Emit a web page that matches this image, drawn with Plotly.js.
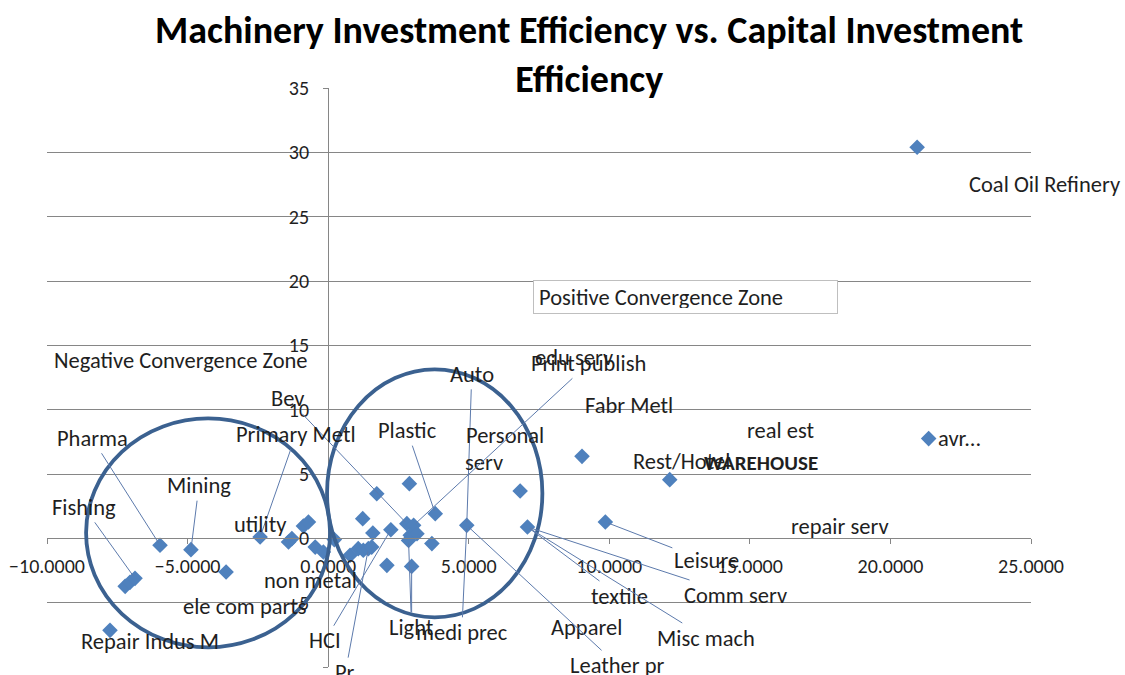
<!DOCTYPE html>
<html>
<head>
<meta charset="utf-8">
<script src="https://cdn.plot.ly/plotly-3.0.1.min.js"></script>
<style>html,body{margin:0;padding:0;background:#fff;}#chart{width:1125px;height:675px;}</style>
</head>
<body>
<div id="chart"></div>
<script>
// ---- data ----
const machineryEff = [-7.76,-7.22,-7.05,-6.87,-5.98,-4.88,-3.63,-2.42,-1.41,-1.29,-0.88,-0.70,-0.46,-0.17,0.22,0.78,1.07,1.25,1.43,1.55,1.73,2.89,1.23,1.59,2.23,2.80,3.04,2.92,3.16,2.86,3.69,3.81,2.09,2.97,4.93,6.83,7.09,9.03,12.15,9.86,20.95,21.36];
const capitalEff   = [-7.15,-3.73,-3.42,-3.11,-0.54,-0.88,-2.62,0.10,-0.29,-0.02,0.95,1.27,-0.68,-1.06,-0.10,-1.32,-0.80,-0.93,-0.80,-0.68,3.47,4.25,1.53,0.41,0.67,1.14,1.01,0.23,0.36,-0.16,-0.41,1.92,-2.10,-2.18,1.01,3.68,0.88,6.37,4.56,1.27,30.40,7.75];

const xTickVals = [-10,-5,0,5,10,15,20,25];
const yTickVals = [-10,-5,0,5,10,15,20,25,30,35];

// data labels: text, index of the point they belong to, leader line shown?, bold?, visible text?
const labelTexts  = ["Coal Oil Refinery","avr...","Fabr Metl","real est","Rest/Hotel","WAREHOUSE","repair serv","Leisure","Comm serv","textile","Misc mach","Apparel","Leather pr","medi prec","Auto","Personal","serv","Print publish","edu serv","Plastic","Bev","Primary Metl","utility","Mining","Pharma","Fishing","Repair Indus M","ele com parts","non metal","HCI","Pr","Light","Light"];
const labelPoint  = [40,41,37,38,38,38,39,39,36,36,36,34,34,34,34,35,35,26,26,31,25,7,7,5,4,3,0,6,15,24,18,33,29];
const labelLeader = [0,0,0,0,0,0,0,1,1,1,1,0,1,1,1,0,0,1,0,1,1,1,0,1,1,1,0,0,0,1,1,1,1];
const labelBold   = [0,0,0,0,0,1,0,0,0,0,0,0,0,0,0,0,0,0,0,0,0,0,0,0,0,0,0,0,0,0,0,0,0];
const labelShown  = [1,1,1,1,1,1,1,1,1,1,1,1,1,1,1,1,1,1,1,1,1,1,1,1,1,1,1,1,1,1,1,1,0];

// ---- label placement (pixel offsets from the point) ----
const labelOffsets = [[128,37],[31,0],[47,-51],[111,-49],[12,-18],[91,-17],[235,5],[101,39],[208,68],[92,69],[179,111],[120,102],[151,140],[-5,107],[5,-151],[-15,-55],[-36,-28],[175,-162],[160,-168],[-28,-83],[-119,-125],[36,-103],[0,-13],[8,-64],[-68,-107],[-51,-71],[40,11],[19,34],[-40,25],[-66,111],[-23,124],[0,61],[3,87]];

const FONT = 'Carlito, "Open Sans", sans-serif';
const LABEL_SIZE = 22.5;
const TICK_SIZE = 20;
const TEXT_COLOR = '#1f1f1f';

const trace = {
  type: 'scatter', mode: 'markers',
  x: machineryEff, y: capitalEff,
  marker: {symbol: 'diamond', size: 12, color: '#4f81bd'},
  cliponaxis: false, hoverinfo: 'skip'
};

const annotations = labelTexts.map((t, i) => {
  const p = labelPoint[i];
  return {
    x: machineryEff[p], y: capitalEff[p], xref: 'x', yref: 'y',
    text: labelBold[i] ? '<b>' + t + '</b>' : t,
    showarrow: true, arrowhead: 0, arrowwidth: 1, standoff: 3,
    arrowcolor: labelLeader[i] ? 'rgb(92,122,172)' : 'rgba(0,0,0,0)',
    ax: labelOffsets[i][0], ay: labelOffsets[i][1],
    font: {family: FONT, size: labelBold[i] ? 21 : LABEL_SIZE, color: labelShown[i] ? TEXT_COLOR : 'rgba(0,0,0,0)'}
  };
});

// zone text boxes and axis note
annotations.push({
  xref: 'x', yref: 'y', x: -9.82, y: 13.83, xanchor: 'left', yanchor: 'middle',
  text: 'Negative Convergence Zone', showarrow: false,
  font: {family: FONT, size: LABEL_SIZE, color: TEXT_COLOR}
});
annotations.push({
  xref: 'x', yref: 'y', x: 7.30, y: 18.73, xanchor: 'left', yanchor: 'middle',
  text: 'Positive Convergence Zone', showarrow: false, align: 'left',
  width: 293, height: 22, borderpad: 5, bordercolor: '#bfbfbf', borderwidth: 1, bgcolor: '#ffffff',
  font: {family: FONT, size: LABEL_SIZE, color: TEXT_COLOR}
});
const noteLines = ['X: Machinery', 'Inv. Eff', 'Y: Capitel', 'Inv. Eff'];
const noteY = [21.4, 19.2, 17.05, 14.8];
const noteX = [25.9, 25.8, 25.3, 25.6];
noteLines.forEach((t, i) => annotations.push({
  xref: 'x', yref: 'y', x: noteX[i], y: noteY[i], xanchor: 'center', yanchor: 'middle',
  text: t, showarrow: false, font: {family: FONT, size: LABEL_SIZE, color: TEXT_COLOR}
}));

const circleLine = {color: '#3b6190', width: 3.8};
const layout = {
  width: 1125, height: 675,
  margin: {l: 47, r: 94, t: 88, b: 8},
  paper_bgcolor: '#ffffff', plot_bgcolor: '#ffffff',
  showlegend: false, hovermode: false,
  title: {
    text: '<b>Machinery Investment Efficiency vs. Capital Investment<br>Efficiency</b>',
    x: 0.551, xanchor: 'center', xref: 'paper', y: 0.937, yanchor: 'top', yref: 'container',
    font: {family: FONT, size: 38, color: '#000000'}
  },
  font: {family: FONT, size: LABEL_SIZE, color: TEXT_COLOR},
  xaxis: {
    range: [-10, 25], tickvals: xTickVals, tickformat: '.4f',
    showgrid: false, zeroline: false, showline: true, linecolor: '#868686', linewidth: 1,
    ticks: 'outside', ticklen: 5, tickcolor: '#868686', ticklabelstandoff: 5,
    anchor: 'free', position: 10 / 45,
    tickfont: {family: FONT, size: TICK_SIZE, color: TEXT_COLOR}
  },
  yaxis: {
    range: [-10, 35], tickvals: yTickVals,
    showgrid: true, gridcolor: '#868686', gridwidth: 1,
    zeroline: false, showline: true, linecolor: '#868686', linewidth: 1,
    ticks: 'outside', ticklen: 5, tickcolor: '#868686', ticklabelstandoff: 10,
    anchor: 'free', position: 10 / 35,
    tickfont: {family: FONT, size: TICK_SIZE, color: TEXT_COLOR}
  },
  shapes: [
    {type: 'circle', xref: 'x', yref: 'y', x0: -8.61, x1: 0.07, y0: -8.47, y1: 9.32, line: circleLine, layer: 'above'},
    {type: 'circle', xref: 'x', yref: 'y', x0: -0.04, x1: 7.62, y0: -6.14, y1: 13.13, line: circleLine, layer: 'above'}
  ],
  annotations: annotations
};

Plotly.newPlot('chart', [trace], layout, {staticPlot: true, displayModeBar: false});
</script>
</body>
</html>
